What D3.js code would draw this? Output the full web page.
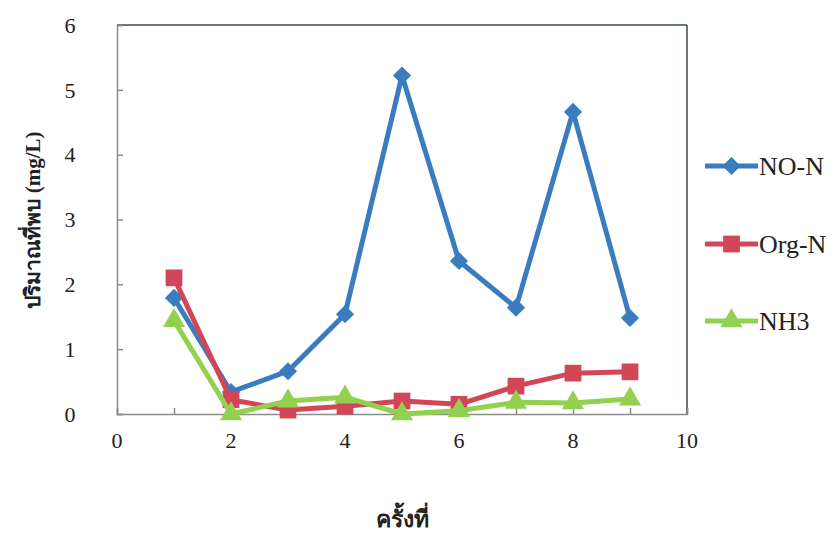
<!DOCTYPE html>
<html>
<head>
<meta charset="utf-8">
<script src="https://cdn.jsdelivr.net/npm/d3@7"></script>
<style>
    body { margin: 0; background: #fff; }
    svg text { font-family: "Liberation Serif", "Times New Roman", Times, serif; fill: #222; }
</style>
</head>
<body>
<div id="chart"></div>
<script>
// data
const rounds = [1, 2, 3, 4, 5, 6, 7, 8, 9];
const noN = [1.79, 0.34, 0.66, 1.54, 5.22, 2.36, 1.64, 4.66, 1.48];
const orgN = [2.10, 0.22, 0.06, 0.12, 0.20, 0.15, 0.43, 0.63, 0.65];
const nh3 = [1.44, 0.00, 0.20, 0.26, 0.00, 0.05, 0.18, 0.17, 0.23];
const seriesNames = ["NO-N", "Org-N", "NH3"];
const xTicks = [0, 2, 4, 6, 8, 10];
const yTicks = [0, 1, 2, 3, 4, 5, 6];

const W = 833, H = 539;
const margin = { top: 25, right: 146, bottom: 125, left: 117 };
const width = W - margin.left - margin.right;
const height = H - margin.top - margin.bottom;

const svg = d3.select("#chart").append("svg")
    .attr("width", W)
    .attr("height", H);

const g = svg.append("g")
    .attr("transform", `translate(${margin.left}, ${margin.top})`);

// scales
const x = d3.scaleLinear().domain([0, 10]).range([0, width]);
const y = d3.scaleLinear().domain([0, 6]).range([height, 0]);

// frame: top + right dark, left + bottom grey
g.append("line").attr("x1", 0).attr("x2", width).attr("y1", 0).attr("y2", 0)
    .attr("stroke", "#3a4a48").attr("stroke-width", 1.5);
g.append("line").attr("x1", width).attr("x2", width).attr("y1", 0).attr("y2", height)
    .attr("stroke", "#3a4a48").attr("stroke-width", 1.5);

// y axis, ticks pointing inwards
const yAxis = g.append("g").attr("class", "y-axis")
    .call(d3.axisRight(y).tickValues(yTicks).tickSize(6).tickFormat(""));
yAxis.selectAll("line, path").attr("stroke", "#8c8c8c").attr("stroke-width", 1.5);

g.selectAll(".y-label").data(yTicks).enter().append("text")
    .attr("class", "y-label")
    .attr("x", -47)
    .attr("y", d => y(d))
    .attr("dy", "0.35em")
    .attr("text-anchor", "middle")
    .style("font-size", "22px")
    .text(d => d);

// x axis, minor ticks at every integer, labels on even
const xAxis = g.append("g").attr("class", "x-axis")
    .attr("transform", `translate(0, ${height})`)
    .call(d3.axisTop(x).tickValues(d3.range(0, 11)).tickSize(6).tickFormat(""));
xAxis.selectAll("line, path").attr("stroke", "#8c8c8c").attr("stroke-width", 1.5);

g.selectAll(".x-label").data(xTicks).enter().append("text")
    .attr("class", "x-label")
    .attr("x", d => x(d))
    .attr("y", height + 34)
    .attr("text-anchor", "middle")
    .style("font-size", "22px")
    .text(d => d);

// axis titles
svg.append("text")
    .attr("transform", `translate(40, 220) rotate(-90)`)
    .attr("text-anchor", "middle")
    .style("font-size", "21px")
    .style("font-weight", "bold")
    .text("ปริมาณที่พบ (mg/L)");

svg.append("text")
    .attr("x", margin.left + x(5))
    .attr("y", 527)
    .attr("text-anchor", "middle")
    .style("font-size", "23px")
    .style("font-weight", "bold")
    .text("ครั้งที่");

// series
const colors = d3.scaleOrdinal().domain(seriesNames).range(["#3a7cc0", "#d24658", "#92d050"]);
const symbols = {
    "NO-N": d3.symbol().type(d3.symbolDiamond2).size(210),
    "Org-N": d3.symbol().type(d3.symbolSquare).size(280),
    "NH3": d3.symbol().type(d3.symbolTriangle).size(210)
};
const series = [
    { name: "NO-N", values: noN },
    { name: "Org-N", values: orgN },
    { name: "NH3", values: nh3 }
];

const line = d3.line()
    .x((d, i) => x(rounds[i]))
    .y(d => y(d));

series.forEach(s => {
    g.append("path")
        .datum(s.values)
        .attr("fill", "none")
        .attr("stroke", colors(s.name))
        .attr("stroke-width", 5)
        .attr("stroke-linejoin", "round")
        .attr("d", line);

    g.selectAll(".pt-" + s.name).data(s.values).enter().append("path")
        .attr("transform", (d, i) => `translate(${x(rounds[i])}, ${y(d)})`)
        .attr("d", symbols[s.name])
        .attr("fill", colors(s.name));
});

// legend
const legendY = [166, 244, 321];
const legend = svg.append("g").attr("class", "legend");
series.forEach((s, i) => {
    const lg = legend.append("g").attr("transform", `translate(705, ${legendY[i]})`);
    lg.append("line")
        .attr("x1", 0).attr("x2", 53)
        .attr("stroke", colors(s.name))
        .attr("stroke-width", 5);
    lg.append("path")
        .attr("transform", "translate(26.5, 0)")
        .attr("d", symbols[s.name])
        .attr("fill", colors(s.name));
    lg.append("text")
        .attr("x", 54)
        .attr("dy", "0.35em")
        .style("font-size", "26px")
        .text(s.name);
});
</script>
</body>
</html>
